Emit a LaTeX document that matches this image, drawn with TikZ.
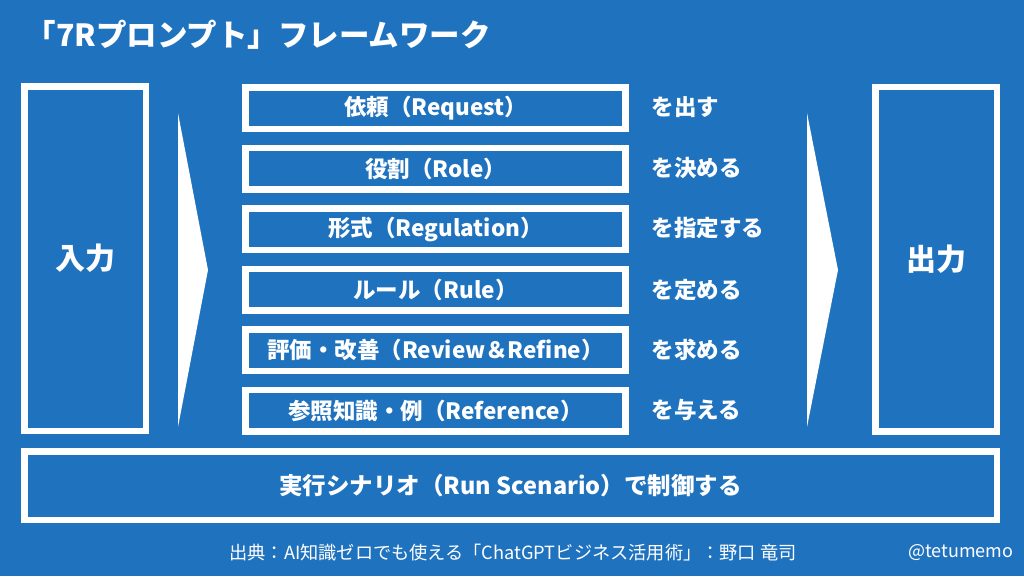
\documentclass[tikz,border=0pt]{standalone}
\usepackage{fontspec}
\newfontfamily\jpfont{Noto Sans CJK JP}
\usetikzlibrary{positioning}
\definecolor{bgblue}{RGB}{31,114,190}
\tikzset{
  x=1pt, y=-1pt,
  every node/.style={text=white, font=\jpfont\bfseries},
  frame/.style={draw=white, line width=6.5pt, inner sep=0pt},
  sidebox/.style={frame, minimum width=121.5pt, minimum height=344.5pt, font=\jpfont\bfseries\fontsize{30}{34}\selectfont},
  stepbox/.style={frame, minimum width=380pt, minimum height=41.5pt, font=\jpfont\bfseries\fontsize{22.5}{26}\selectfont},
  verb/.style={anchor=west, font=\jpfont\bfseries\fontsize{22.5}{26}\selectfont},
  chevron/.style={fill=white, draw=none},
}

\begin{document}
\begin{tikzpicture}
  \fill[bgblue] (0,0) rectangle (1024,576);
  \useasboundingbox (0,0) rectangle (1024,576);

  % title
  \node[anchor=west, font=\jpfont\bfseries\fontsize{30.5}{34}\selectfont] (title) at (22,35) {「7Rプロンプト」フレームワーク};

  % boxes
  \node[sidebox] (in) at (85,258.5) {入力};
  \node[sidebox] (out) at (936,259) {出力};
  \node[stepbox] (r1) at (435.5,108) {依頼（Request）};
  \node[stepbox] (r2) at (435.5,168.5) {役割（Role）};
  \node[stepbox] (r3) at (435.5,229) {形式（Regulation）};
  \node[stepbox] (r4) at (435.5,289.5) {ルール（Rule）};
  \node[stepbox] (r5) at (435.5,350) {評価・改善（Review＆Refine）};
  \node[stepbox] (r6) at (435.5,410.5) {参照知識・例（Reference）};
  \node[frame, minimum width=972.5pt, minimum height=68.5pt, font=\jpfont\bfseries\fontsize{23.5}{27}\selectfont] (run) at (510.5,485.5) {実行シナリオ（Run Scenario）で制御する};

  % verbs
  \node[verb] (v1) at (648,107) {を出す};
  \node[verb] (v2) at (648,168) {を決める};
  \node[verb] (v3) at (648,228.5) {を指定する};
  \node[verb] (v4) at (648,290) {を定める};
  \node[verb] (v5) at (648,349.5) {を求める};
  \node[verb] (v6) at (648,410) {を与える};

  % arrows
  \coordinate (a1) at (178,113);
  \coordinate (a2) at (178,427);
  \coordinate (b1) at (807,113);
  \coordinate (b2) at (807,427);
  \fill[chevron] (a1) -- (208,270) -- (a2) -- cycle;
  \fill[chevron] (b1) -- (838,270) -- (b2) -- cycle;

  % footer
  \node[font=\jpfont\fontsize{18.2}{22}\selectfont] (src) at (513,553) {出典：AI知識ゼロでも使える「ChatGPTビジネス活用術」：野口 竜司};
  \node[anchor=east, font=\jpfont\fontsize{18}{22}\selectfont] (tag) at (1017,553) {@tetumemo};
\end{tikzpicture}
\end{document}
